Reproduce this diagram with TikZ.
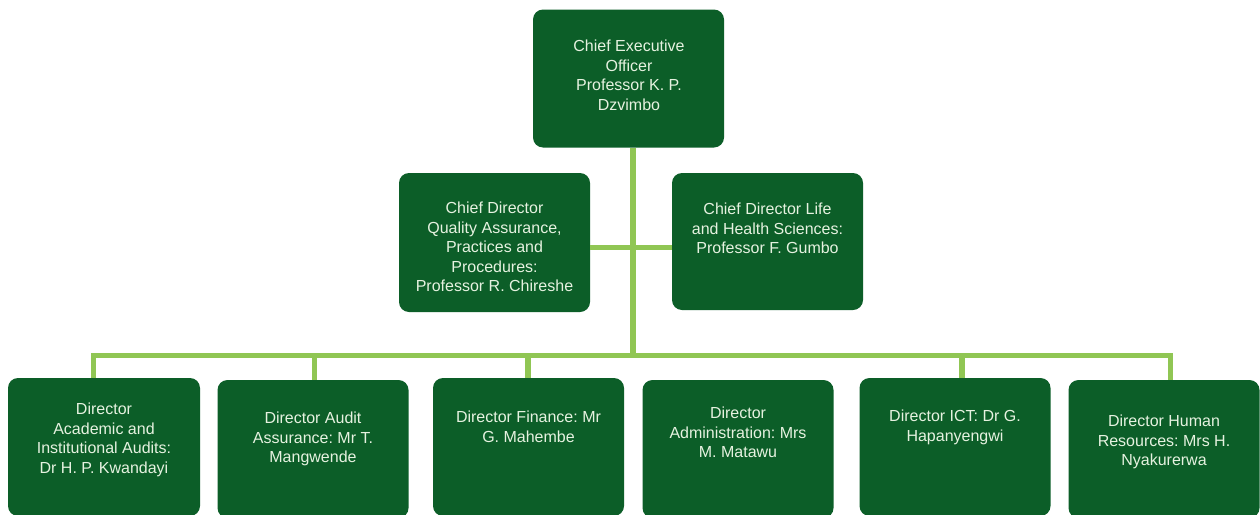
\documentclass[tikz,border=0pt]{standalone}
\usepackage{fontspec}
\setmainfont{Liberation Sans}
\frenchspacing
\definecolor{dkgreen}{RGB}{12,94,40}
\definecolor{ltgreen}{RGB}{144,198,84}
\definecolor{txtc}{RGB}{230,242,224}
\begin{document}
\begin{tikzpicture}[x=1pt,y=-1pt,
  box/.style={fill=dkgreen, draw=none, rounded corners=10pt, inner sep=0pt,
    minimum width=191pt, minimum height=138pt},
  lbl/.style={text=txtc, font=\fontsize{16}{19.5}\selectfont, align=center,
    anchor=north, inner sep=0pt},
  conn/.style={draw=ltgreen, line width=5.5pt}]
\useasboundingbox (0,0) rectangle (1260,514);
\clip (0,0) rectangle (1260,514);
\fill[white] (0,0) rectangle (1260,514);
% boxes
\node[box] (ceo) at (628.5,78.5) {};
\node[box, minimum height=139pt] (qa) at (494.5,242.5) {};
\node[box, minimum height=137pt] (lhs) at (767.5,241.5) {};
\node[box, minimum width=192pt] (b1) at (104,447) {};
\node[box] (b2) at (313,449) {};
\node[box] (b3) at (528.5,447) {};
\node[box] (b4) at (738,449) {};
\node[box] (b5) at (955,447) {};
\node[box] (b6) at (1164,449) {};
% labels
\node[lbl] (tceo) at (629,40) {Chief Executive\\Officer\\Professor K. P.\\Dzvimbo};
\node[lbl] (tqa) at (494.5,202) {Chief Director\\Quality Assurance,\\Practices and\\Procedures:\\Professor R. Chireshe};
\node[lbl] (tlhs) at (767.5,203) {Chief Director Life\\and Health Sciences:\\Professor F. Gumbo};
\node[lbl] (tb1) at (104,403) {Director\\Academic and\\Institutional Audits:\\Dr H. P. Kwandayi};
\node[lbl] (tb2) at (313,412) {Director Audit\\Assurance: Mr T.\\Mangwende};
\node[lbl] (tb3) at (528.5,411) {Director Finance: Mr\\G. Mahembe};
\node[lbl] (tb4) at (738,407) {Director\\Administration: Mrs\\M. Matawu};
\node[lbl] (tb5) at (955,410) {Director ICT: Dr G.\\Hapanyengwi};
\node[lbl] (tb6) at (1164,415) {Director Human\\Resources: Mrs H.\\Nyakurerwa};
% connector geometry
\coordinate (trunk) at (633,0);
\coordinate (bus) at (0,355.5);
\coordinate (mid) at (0,247.5);
\coordinate (s1) at (93.5,0);
\coordinate (s2) at (314.5,0);
\coordinate (s3) at (528,0);
\coordinate (s5) at (962,0);
\coordinate (s6) at (1170.5,0);
% connectors
\draw[conn] (ceo.south -| trunk) -- (trunk |- bus);
\draw[conn] (qa.east |- mid) -- (lhs.west |- mid);
\draw[conn] (b1.north -| s1) -- (s1 |- bus) -- (s6 |- bus) -- (b6.north -| s6);
\draw[conn] (b2.north -| s2) -- (s2 |- bus);
\draw[conn] (b3.north -| s3) -- (s3 |- bus);
\draw[conn] (b5.north -| s5) -- (s5 |- bus);
\end{tikzpicture}
\end{document}
